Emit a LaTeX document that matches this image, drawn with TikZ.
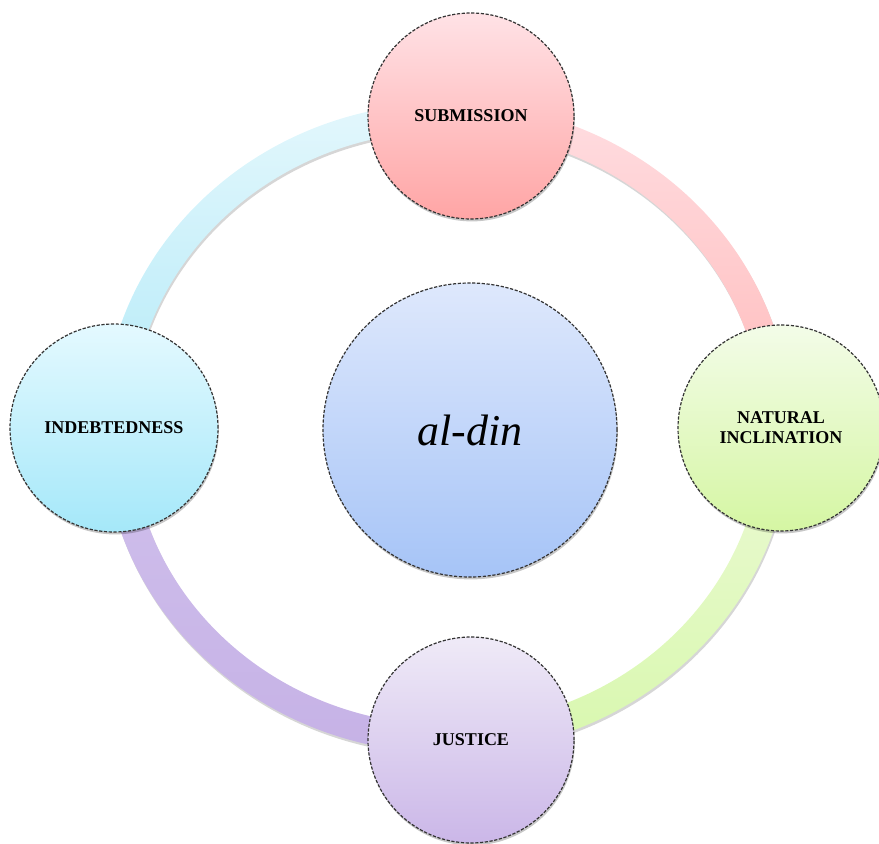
\documentclass[tikz,border=0pt]{standalone}
\usepackage{fontspec}
\setmainfont{Liberation Serif}
\usetikzlibrary{shadows}
\definecolor{subT}{HTML}{FFE2E6}
\definecolor{subB}{HTML}{FFA5A5}
\definecolor{natT}{HTML}{F3FCE8}
\definecolor{natB}{HTML}{D5F6A3}
\definecolor{jusT}{HTML}{EFEAF7}
\definecolor{jusB}{HTML}{CBB7E8}
\definecolor{indT}{HTML}{E4F9FF}
\definecolor{indB}{HTML}{A5E8F9}
\definecolor{cenT}{HTML}{DEE8FC}
\definecolor{cenB}{HTML}{A6C4F7}
\definecolor{rbT}{HTML}{E3F7FC}
\definecolor{rbB}{HTML}{B3EAF8}
\definecolor{rpT}{HTML}{FFDDE1}
\definecolor{rpB}{HTML}{FFBABA}
\definecolor{rgT}{HTML}{ECFAD5}
\definecolor{rgB}{HTML}{D8F8AE}
\definecolor{ruT}{HTML}{D0C0EC}
\definecolor{ruB}{HTML}{C6B2E6}
\newcommand\ringseg[4]{%
  \fill[black, opacity=0.16, shift={(448,412.5)}]
    (#1:172pt and 162.5pt) arc[start angle=#1, end angle=#2, x radius=172pt, y radius=162.5pt]
    -- (#2:158pt and 148.5pt) arc[start angle=#2, end angle=#1, x radius=158pt, y radius=148.5pt] -- cycle;
  \shade[top color=#3, bottom color=#4, shift={(447,415)}]
    (#1:172pt and 162.5pt) arc[start angle=#1, end angle=#2, x radius=172pt, y radius=162.5pt]
    -- (#2:158pt and 148.5pt) arc[start angle=#2, end angle=#1, x radius=158pt, y radius=148.5pt] -- cycle;
}
\begin{document}
\begin{tikzpicture}[x=0.5pt,y=0.5pt,
  bubble/.style={circle, inner sep=0pt, minimum size=103pt,
    draw=black!80, line width=0.6pt, dash pattern=on 1.6pt off 0.8pt,
    drop shadow={shadow xshift=0.4pt, shadow yshift=-1.2pt, fill=black, opacity=0.22},
    font=\fontsize{9}{10}\selectfont\bfseries, align=center},
  hub/.style={bubble, minimum size=147pt, font=\fontsize{22}{26}\selectfont\itshape}]
\useasboundingbox (0,0) rectangle (879,843);
% ring segments
\ringseg{90}{180}{rbT}{rbB}
\ringseg{0}{90}{rpT}{rpB}
\ringseg{270}{360}{rgT}{rgB}
\ringseg{180}{270}{ruT}{ruB}
% nodes
\node[bubble, top color=subT, bottom color=subB] (sub) at (471,727) {SUBMISSION};
\node[bubble, top color=natT, bottom color=natB] (nat) at (781,415) {NATURAL\\INCLINATION};
\node[bubble, top color=jusT, bottom color=jusB] (jus) at (471,103) {JUSTICE};
\node[bubble, top color=indT, bottom color=indB, minimum size=104pt] (ind) at (114,415) {INDEBTEDNESS};
\node[hub, top color=cenT, bottom color=cenB] (cen) at (470,413) {al-din};
\end{tikzpicture}
\end{document}
